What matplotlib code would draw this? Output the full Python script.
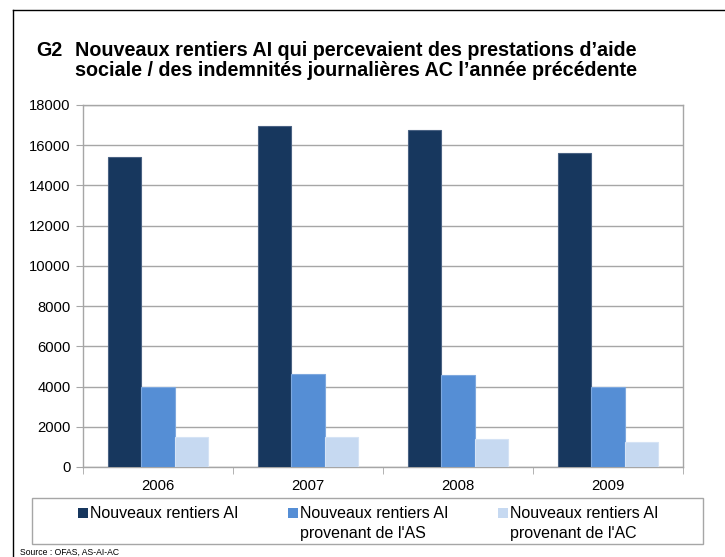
import matplotlib.pyplot as plt
from matplotlib.patches import Rectangle
from matplotlib.lines import Line2D
import numpy as np

years = ["2006", "2007", "2008", "2009"]
rentiers_ai = [15400, 16950, 16750, 15600]
rentiers_as = [3960, 4620, 4580, 3960]
rentiers_ac = [1500, 1500, 1380, 1250]

series_names = [("Nouveaux rentiers AI", ""),
                ("Nouveaux rentiers AI", "provenant de l'AS"),
                ("Nouveaux rentiers AI", "provenant de l'AC")]
colors = ["#17375E", "#558ED5", "#C6D9F1"]
edges = ["#4A6283", "#7EA8DE", "#D5E3F5"]

W, H = 725, 557
fig = plt.figure(figsize=(W / 100, H / 100), dpi=100)

def fx(px):
    return px / W

def fy(py):
    return 1 - py / H

font = ["Liberation Sans", "DejaVu Sans"]

# outer frame
fig.add_artist(Line2D([fx(13), fx(13)], [fy(10), 0], color="black", lw=1))
fig.add_artist(Line2D([fx(13), 1], [fy(10), fy(10)], color="black", lw=1))

# title
fig.text(fx(36), fy(56), "G2", fontsize=14.2, fontweight="bold",
         family=font, va="baseline")
fig.text(fx(75), fy(56), "Nouveaux rentiers AI qui percevaient des prestations d\u2019aide",
         fontsize=14.2, fontweight="bold", family=font, va="baseline")
fig.text(fx(75), fy(76), "sociale / des indemnit\u00e9s journali\u00e8res AC l\u2019ann\u00e9e pr\u00e9c\u00e9dente",
         fontsize=14.2, fontweight="bold", family=font, va="baseline")

ax = fig.add_axes([fx(83), fy(467), fx(683) - fx(83), fy(105) - fy(467)])

x = np.arange(len(years))
w = 0.222
for i, vals in enumerate([rentiers_ai, rentiers_as, rentiers_ac]):
    ax.bar(x + (i - 1) * w, vals, w, color=colors[i], edgecolor=edges[i],
           linewidth=0.8, zorder=3)

ax.set_xlim(-0.5, 3.5)
ax.set_ylim(0, 18000)
ax.set_yticks(range(0, 18001, 2000))
ax.yaxis.grid(True, color="#A6A6A6", lw=1, zorder=0)
ax.set_xticks(x)
ax.set_xticklabels(years)
ax.set_xticks(np.arange(-0.5, 4, 1), minor=True)
ax.tick_params(axis="x", which="major", length=0, pad=9, labelsize=10.7)
ax.tick_params(axis="x", which="minor", length=5, color="#A6A6A6", direction="out")
ax.tick_params(axis="y", length=5, color="#A6A6A6", labelsize=10.6, pad=4)
for lab in ax.get_xticklabels() + ax.get_yticklabels():
    lab.set_family(font)
for s in ax.spines.values():
    s.set_color("#A6A6A6")
    s.set_linewidth(1)

# legend box
fig.add_artist(Rectangle((fx(32), fy(544)), fx(703) - fx(32), fy(498) - fy(544),
                         transform=fig.transFigure, fill=False,
                         edgecolor="#A6A6A6", lw=1))
sq_x = [78, 288, 498]
for i, (line1, line2) in enumerate(series_names):
    fig.add_artist(Rectangle((fx(sq_x[i]), fy(518)), fx(10), 10 / H,
                             transform=fig.transFigure, facecolor=colors[i],
                             edgecolor="none"))
    fig.text(fx(sq_x[i] + 12), fy(518), line1, fontsize=11.5, family=font,
             va="baseline", ha="left")
    if line2:
        fig.text(fx(sq_x[i] + 12), fy(538), line2, fontsize=11.5, family=font,
                 va="baseline", ha="left")

fig.text(fx(20), fy(554.5), "Source : OFAS, AS-AI-AC", fontsize=6.2,
         family=font, va="baseline")

fig.savefig("out.png", dpi=100)
